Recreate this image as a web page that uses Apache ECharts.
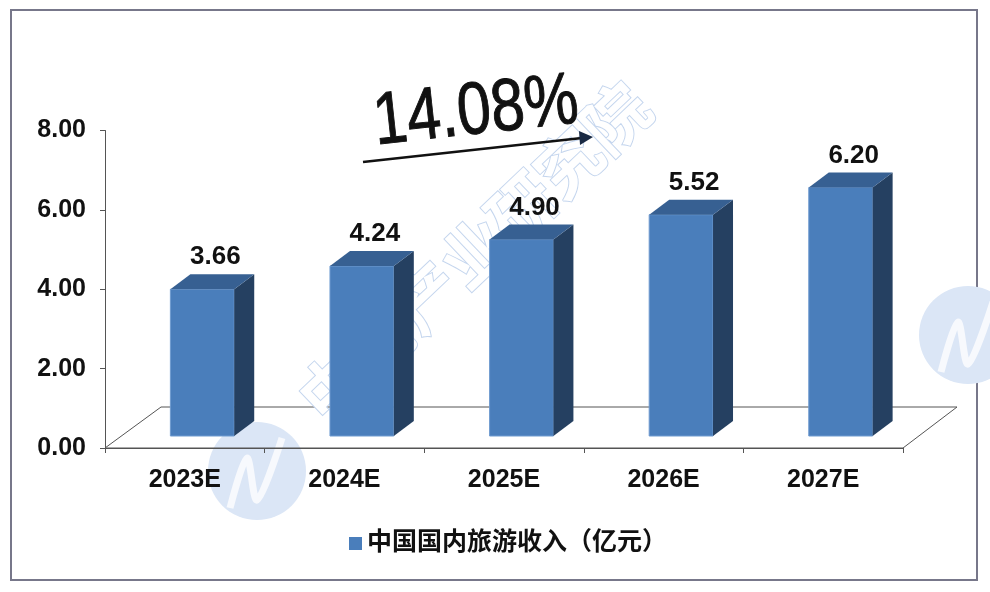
<!DOCTYPE html>
<html>
<head>
<meta charset="utf-8">
<style>html,body{margin:0;padding:0;background:#fff}#main{width:990px;height:592px}</style>
<script src="https://cdn.jsdelivr.net/npm/echarts@6/dist/echarts.min.js"></script>
</head>
<body>
<div id="main"></div>
<script>
var categories = ['2023E', '2024E', '2025E', '2026E', '2027E'];
var values = [3.66, 4.24, 4.90, 5.52, 6.20];
var valueLabels = ['3.66', '4.24', '4.90', '5.52', '6.20'];
var seriesName = '中国国内旅游收入（亿元）';
var growthText = '14.08%';
var watermarkText = '中商产业研究院';

var font = '"Liberation Sans", "Noto Sans CJK SC", sans-serif';
var myChart = echarts.init(document.getElementById('main'));

// 柱子画成带侧面和顶面的立体效果
function renderBar(params, api) {
    var band = api.size([1, 0])[0];
    var base = api.coord([api.value(0), 0]);
    var top = api.coord([api.value(0), api.value(1)]);
    var w = band * 0.4, dx = 20, dy = 15;
    var x0 = base[0] + 17.5 - w / 2, x1 = x0 + w;
    var yb = base[1] - 12, yt = yb - (base[1] - top[1]) * 1.01;
    return {
        type: 'group',
        children: [
            {type: 'rect', shape: {x: x0, y: yt, width: w, height: yb - yt},
             style: {fill: '#4a7ebb', stroke: '#6f9bd0', lineWidth: 1}},
            {type: 'polygon', shape: {points: [[x1, yt], [x1 + dx, yt - dy], [x1 + dx, yb - dy], [x1, yb]]},
             style: {fill: '#254061'}},
            {type: 'polygon', shape: {points: [[x0, yt], [x0 + dx, yt - dy], [x1 + dx, yt - dy], [x1, yt]]},
             style: {fill: '#376092'}},
            {type: 'text', style: {x: x0 + w / 2 + 13, y: yt - 32, text: valueLabels[params.dataIndex],
             fill: '#111', font: 'bold 26px ' + font, align: 'center', verticalAlign: 'middle'}}
        ]
    };
}

// 水印圆标
function logo(cx, cy) {
    return [
        {type: 'circle', z: 0, shape: {cx: cx, cy: cy, r: 49}, style: {fill: '#dbe6f6'}},
        {type: 'polyline', z: 0,
         shape: {smooth: 0.3, points: [[cx - 27, cy + 37], [cx - 10, cy - 13], [cx, cy + 29], [cx + 25, cy - 33]]},
         style: {stroke: '#f7f9fd', lineWidth: 7, fill: 'none'}}
    ];
}

var option = {
    animation: false,
    backgroundColor: '#fff',
    grid: {left: 105, right: 87, top: 130.5, bottom: 144},
    legend: {
        top: 526, left: 344, itemWidth: 13, itemHeight: 13, itemGap: 9, icon: 'rect',
        data: [seriesName],
        textStyle: {fontFamily: font, fontSize: 25, fontWeight: 'bold', color: '#111'}
    },
    xAxis: {
        type: 'category', data: categories,
        axisLine: {lineStyle: {color: '#555'}},
        axisTick: {show: true, length: 5, lineStyle: {color: '#555'}},
        axisLabel: {fontFamily: font, fontSize: 25, fontWeight: 'bold', color: '#111', margin: 20}
    },
    yAxis: {
        type: 'value', min: 0, max: 8, interval: 2,
        axisLine: {show: true, lineStyle: {color: '#555'}},
        axisTick: {show: true, length: 5, lineStyle: {color: '#555'}},
        splitLine: {show: false},
        axisLabel: {fontFamily: font, fontSize: 25, fontWeight: 'bold', color: '#111', margin: 19,
            formatter: function (v) { return v.toFixed(2); }}
    },
    graphic: [
        {type: 'rect', z: 0, shape: {x: 11, y: 10, width: 966, height: 570},
         style: {fill: '#fff', stroke: '#77778a', lineWidth: 2}}
    ].concat(logo(257, 471), logo(968, 335), [
        {type: 'polygon', z: 1, shape: {points: [[105, 448], [161, 407], [957, 407], [903, 448]]},
         style: {fill: 'none', stroke: '#555', lineWidth: 1}},
        {type: 'text', z: 2, rotation: 0.76, x: 474, y: 252,
         style: {text: watermarkText, fill: '#fff', stroke: '#c5d6ee', lineWidth: 2,
             font: 'bold 65px "Noto Sans CJK SC", sans-serif', align: 'center', verticalAlign: 'middle'}},
        {type: 'line', z: 5, shape: {x1: 363, y1: 162, x2: 582, y2: 138},
         style: {stroke: '#111', lineWidth: 2.5}},
        {type: 'polygon', z: 5, shape: {points: [[593, 137], [579, 131], [580, 145]]},
         style: {fill: '#1a2a44'}},
        {type: 'text', z: 5, rotation: 0.108, scaleX: 0.82, x: 476, y: 113,
         style: {text: growthText, fill: '#111', stroke: '#111', lineWidth: 1, font: '74px ' + font,
             align: 'center', verticalAlign: 'middle'}}
    ]),
    series: [{
        name: seriesName,
        type: 'custom',
        renderItem: renderBar,
        encode: {x: 0, y: 1},
        itemStyle: {color: '#4a7ebb'},
        z: 3,
        data: categories.map(function (c, i) { return [i, values[i]]; })
    }]
};
myChart.setOption(option);
</script>
</body>
</html>
